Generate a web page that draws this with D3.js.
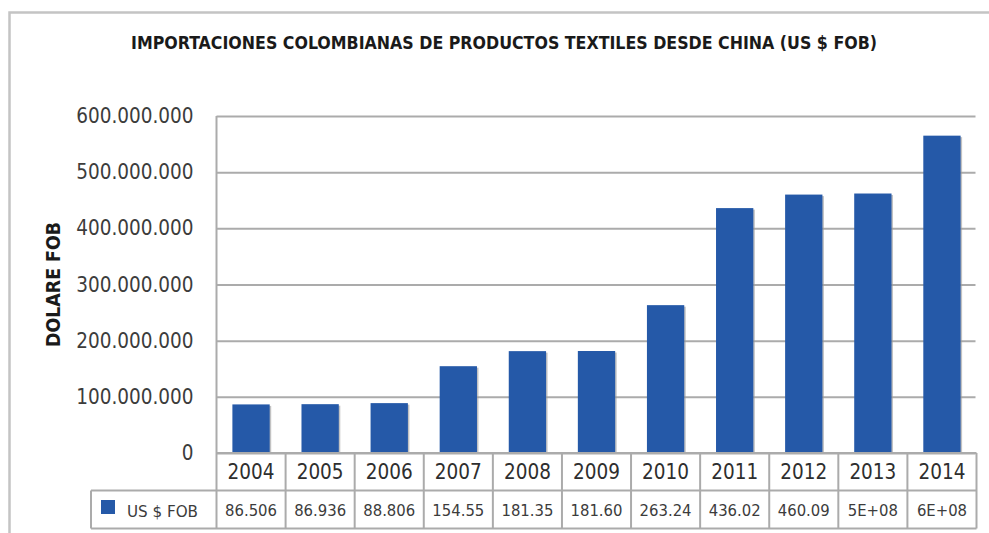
<!DOCTYPE html>
<html>
<head>
<meta charset="utf-8">
<script src="https://cdn.jsdelivr.net/npm/d3@7"></script>
<style>
  html, body { margin: 0; padding: 0; background: #fff; }
  svg { display: block; }
  text { font-family: "DejaVu Sans Condensed", "DejaVu Sans", sans-serif; }
</style>
</head>
<body>
<script>
// ---- data ----
const years = ["2004","2005","2006","2007","2008","2009","2010","2011","2012","2013","2014"];
const values = [86506000, 86936000, 88806000, 154550000, 181350000, 181600000, 263240000, 436020000, 460090000, 462000000, 565000000];
const tableLabels = ["86.506","86.936","88.806","154.55","181.35","181.60","263.24","436.02","460.09","5E+08","6E+08"];
const yTicks = [0, 100000000, 200000000, 300000000, 400000000, 500000000, 600000000];
const seriesName = "US $ FOB";
const title = "IMPORTACIONES COLOMBIANAS DE PRODUCTOS TEXTILES DESDE CHINA (US $ FOB)";
const yTitle = "DOLARE FOB";

// ---- layout ----
const W = 989, H = 533;
const plot = { left: 216.5, right: 976.5, top: 116, bottom: 453 };
const row1Bottom = 490.5, row2Bottom = 528.5, legendLeft = 91;
const barColor = "#2559a8";
const gridColor = "#ababab";
const textColor = "#3c3c3c";

const svg = d3.select("body").append("svg").attr("width", W).attr("height", H);

// outer frame (top + left)
svg.append("path")
  .attr("d", `M${W},12.5 H9.5 V${H}`)
  .attr("fill", "none").attr("stroke", "#c4c4c4").attr("stroke-width", 2.5);

// title
svg.append("text")
  .attr("x", 131).attr("y", 49)
  .attr("textLength", 746).attr("lengthAdjust", "spacingAndGlyphs")
  .attr("font-weight", "bold").attr("font-size", 17).attr("fill", "#1a1a1a")
  .text(title);

const x = d3.scaleBand().domain(years).range([plot.left, plot.right])
  .paddingInner(0.46).paddingOuter(0.23);
const y = d3.scaleLinear().domain([0, 600000000]).range([plot.bottom, plot.top]);

const fmt = d => d === 0 ? "0" : d3.format(",")(d).replace(/,/g, ".");

// y axis with gridlines
const yAxis = svg.append("g")
  .attr("transform", `translate(${plot.left},0)`)
  .call(d3.axisLeft(y).tickValues(yTicks).tickFormat(fmt)
    .tickSize(-(plot.right - plot.left - 1)).tickPadding(23));
yAxis.select(".domain").remove();
yAxis.selectAll(".tick line").attr("stroke", gridColor).attr("stroke-width", 2);
yAxis.selectAll(".tick text")
  .attr("font-size", 20.5).attr("fill", textColor)
  .attr("font-family", "'DejaVu Sans Condensed', 'DejaVu Sans', sans-serif");

// y title
svg.append("text")
  .attr("transform", `translate(60,${(222 + 347) / 2}) rotate(-90)`)
  .attr("text-anchor", "middle")
  .attr("textLength", 125).attr("lengthAdjust", "spacingAndGlyphs")
  .attr("font-weight", "bold").attr("font-size", 19).attr("fill", "#1a1a1a")
  .text(yTitle);

// left axis line
svg.append("line")
  .attr("x1", plot.left).attr("x2", plot.left)
  .attr("y1", plot.top).attr("y2", row2Bottom)
  .attr("stroke", gridColor).attr("stroke-width", 2);

// bars (with faint shadow)
const bars = svg.append("g");
bars.selectAll("rect.shadow").data(years).join("rect")
  .attr("class", "shadow")
  .attr("x", d => x(d) + 1.5)
  .attr("y", (d, i) => y(values[i]) + 1.5)
  .attr("width", x.bandwidth())
  .attr("height", (d, i) => y(0) - y(values[i]) - 1.5)
  .attr("fill", "#9a9a9a").attr("opacity", 0.6);
bars.selectAll("rect.bar").data(years).join("rect")
  .attr("class", "bar")
  .attr("x", d => x(d))
  .attr("y", (d, i) => y(values[i]))
  .attr("width", x.bandwidth())
  .attr("height", (d, i) => y(0) - y(values[i]))
  .attr("fill", barColor);

// ---- data table ----
const tbl = svg.append("g").attr("stroke", "#ababab").attr("stroke-width", 2).attr("fill", "none");
tbl.append("line").attr("x1", plot.left).attr("x2", plot.right).attr("y1", plot.bottom).attr("y2", plot.bottom);
tbl.append("line").attr("x1", legendLeft).attr("x2", plot.right).attr("y1", row1Bottom).attr("y2", row1Bottom);
tbl.append("line").attr("x1", legendLeft).attr("x2", plot.right).attr("y1", row2Bottom).attr("y2", row2Bottom);
tbl.append("line").attr("x1", legendLeft).attr("x2", legendLeft).attr("y1", row1Bottom).attr("y2", row2Bottom);
const step = x.step();
tbl.selectAll("line.v").data(years).join("line")
  .attr("class", "v")
  .attr("x1", d => x(d) - x.paddingOuter() * step + step)
  .attr("x2", d => x(d) - x.paddingOuter() * step + step)
  .attr("y1", plot.bottom).attr("y2", row2Bottom);

// year labels
svg.append("g").selectAll("text").data(years).join("text")
  .attr("x", d => x(d) + x.bandwidth() / 2)
  .attr("y", 479)
  .attr("text-anchor", "middle")
  .attr("font-size", 20.5).attr("fill", "#2e2e2e")
  .text(d => d);

// value labels
svg.append("g").selectAll("text").data(years).join("text")
  .attr("x", d => x(d) + x.bandwidth() / 2)
  .attr("y", 516)
  .attr("text-anchor", "middle")
  .attr("font-size", 16.5).attr("fill", textColor)
  .text((d, i) => tableLabels[i]);

// legend key
svg.append("rect").attr("x", 101).attr("y", 500).attr("width", 14).attr("height", 14).attr("fill", barColor);
svg.append("text").attr("x", 127).attr("y", 517)
  .attr("font-size", 16).attr("fill", textColor)
  .attr("textLength", 71).attr("lengthAdjust", "spacingAndGlyphs")
  .text(seriesName);
</script>
</body>
</html>
